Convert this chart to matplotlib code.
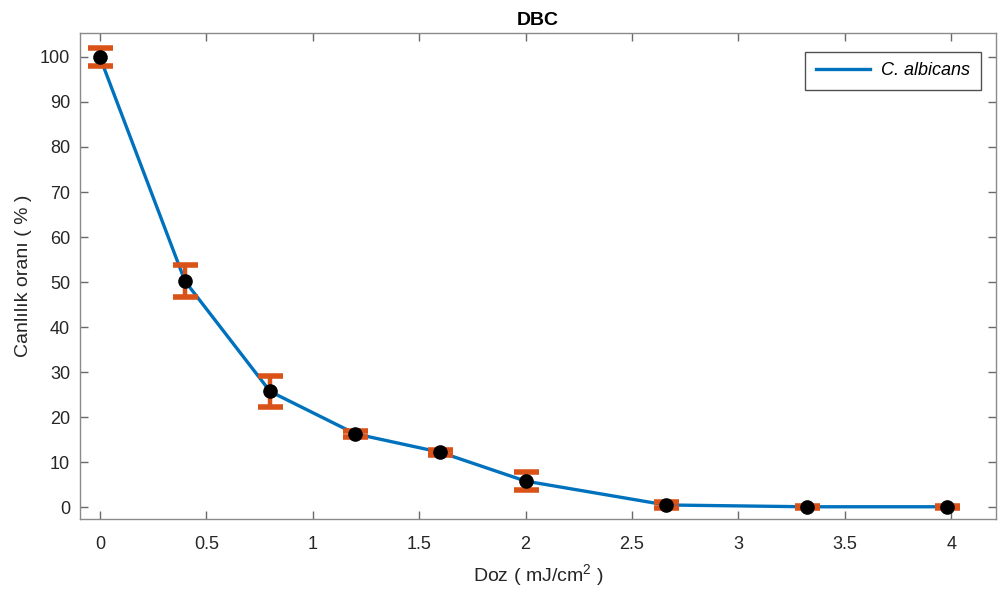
import matplotlib
matplotlib.use("Agg")
import matplotlib.pyplot as plt

plt.rcParams['font.family'] = ['Liberation Sans', 'DejaVu Sans']
plt.rcParams['mathtext.fontset'] = 'custom'
plt.rcParams['mathtext.rm'] = 'Liberation Sans'

dose = [0, 0.4, 0.8, 1.2, 1.6, 2.0, 2.66, 3.32, 3.98]
viability = [100, 50.2, 25.7, 16.3, 12.2, 5.8, 0.5, 0.1, 0.1]
err = [2.0, 3.6, 3.4, 0.7, 0.5, 2.0, 0.6, 0.2, 0.2]
xticks = [0, 0.5, 1, 1.5, 2, 2.5, 3, 3.5, 4]
xticklabels = ['0', '0.5', '1', '1.5', '2', '2.5', '3', '3.5', '4']
yticks = list(range(0, 101, 10))

fig = plt.figure(figsize=(9.98, 5.9), dpi=100)
ax = fig.add_axes([0.080, 0.120, 0.918, 0.824])

line, = ax.plot(dose, viability, color='#0072BD', lw=2.4, zorder=2, label='C. albicans')
ax.errorbar(dose, viability, yerr=err, fmt='none', ecolor='#D95319', elinewidth=3.2,
            capsize=9, capthick=4, zorder=3)
ax.plot(dose, viability, 'o', color='black', ms=9.5, zorder=4)

ax.set_xlim(-0.094, 4.21)
ax.set_ylim(-2.66, 105.3)
ax.set_xticks(xticks)
ax.set_xticklabels(xticklabels)
ax.set_yticks(yticks)

axcol = '#262626'
for s in ax.spines.values():
    s.set_color('#8a8a8a')
    s.set_linewidth(1.0)
ax.tick_params(direction='in', top=True, right=True, length=6, width=1.0,
               color='#6a6a6a', labelsize=13, labelcolor=axcol, pad=12)
ax.tick_params(axis='y', pad=7)

ax.set_title('DBC', fontsize=14, fontweight='bold', color='black', pad=6)
ax.set_xlabel('Doz ( mJ/cm$^2$ )', fontsize=14, color=axcol, labelpad=7)
ax.set_ylabel('Canlılık oranı ( % )', fontsize=14, color=axcol, labelpad=6)

leg = ax.legend(handles=[line], loc='upper right', bbox_to_anchor=(0.9895, 0.973),
                frameon=True, fancybox=False, handlelength=3.0, handletextpad=0.6,
                borderpad=0.6, borderaxespad=0.3, prop={'style': 'italic', 'size': 13})
leg.get_frame().set_edgecolor('#262626')
leg.get_frame().set_linewidth(1.0)

fig.savefig('out.png', dpi=100)
